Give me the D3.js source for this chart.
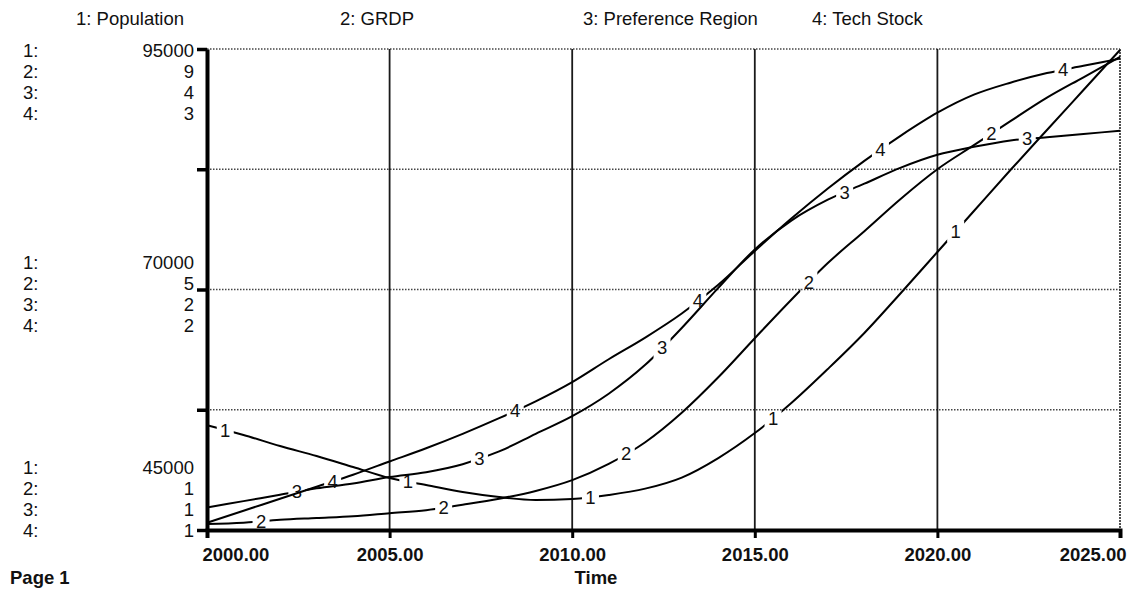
<!DOCTYPE html>
<html>
<head>
<meta charset="utf-8">
<script src="https://cdn.jsdelivr.net/npm/d3@7/dist/d3.min.js"></script>
<style>
  html, body { margin: 0; padding: 0; background: #fff; }
  svg { display: block; }
  text { font-family: "Liberation Sans", Arial, sans-serif; fill: #111; }
</style>
</head>
<body>
<svg id="chart" width="1131" height="595"></svg>
<script>
// ---------------- DATA ----------------
const years = [2000, 2001, 2002, 2003, 2004, 2005, 2006, 2007, 2008, 2009, 2010, 2011, 2012,
               2013, 2014, 2015, 2016, 2017, 2018, 2019, 2020, 2021, 2022, 2023, 2024, 2025];

const population = [55900, 54880, 53730, 52690, 51550, 50400, 49680, 48950, 48430, 48120, 48220, 48640, 49300,
                    50450, 52480, 55080, 58200, 61740, 65480, 69640, 73900, 78160, 82420, 86580, 90740, 94900];

const grdp = [1.10, 1.12, 1.17, 1.20, 1.23, 1.28, 1.33, 1.42, 1.52, 1.65, 1.83, 2.10, 2.46,
              2.95, 3.54, 4.19, 4.83, 5.44, 5.97, 6.51, 7.00, 7.40, 7.80, 8.19, 8.53, 8.87];

const preferenceRegion = [1.14, 1.18, 1.22, 1.26, 1.29, 1.33, 1.36, 1.41, 1.49, 1.60, 1.71, 1.85, 2.03,
                          2.26, 2.51, 2.75, 2.93, 3.06, 3.16, 3.26, 3.34, 3.39, 3.43, 3.45, 3.47, 3.49];

const techStock = [1.03, 1.08, 1.13, 1.18, 1.23, 1.285, 1.34, 1.40, 1.465, 1.535, 1.615, 1.71, 1.80,
                   1.90, 2.02, 2.16, 2.295, 2.42, 2.535, 2.64, 2.735, 2.81, 2.86, 2.90, 2.93, 2.96];

const seriesNames = ["Population", "GRDP", "Preference Region", "Tech Stock"];
const seriesDomains = [[45000, 95000], [1, 9], [1, 4], [1, 3]];

// left axis value labels (top / middle / bottom rows for series 1..4)
const axisTopLabels = ["95000", "9", "4", "3"];
const axisMidLabels = ["70000", "5", "2", "2"];
const axisBotLabels = ["45000", "1", "1", "1"];

const xTickValues = [2000, 2005, 2010, 2015, 2020, 2025];
const xAxisTitle = "Time";
const pageLabel = "Page 1";

// ---------------- LAYOUT ----------------
const svg = d3.select("#chart");
const W = 1131, H = 595;
const pL = 207, pR = 1120, pT = 49, pB = 530;
const FS = 18.5;

svg.append("rect").attr("width", W).attr("height", H).attr("fill", "#fff");

const x = d3.scaleLinear().domain([2000, 2025]).range([pL, pR]);
const yScales = seriesDomains.map(d => d3.scaleLinear().domain(d).range([pB, pT]));
const seriesData = [population, grdp, preferenceRegion, techStock];

// ---------------- GRID ----------------
const grid = svg.append("g");
const y1 = yScales[0];
[57500, 70000, 82500, 95000].forEach(v => {
  grid.append("line")
    .attr("x1", pL).attr("x2", pR)
    .attr("y1", y1(v)).attr("y2", y1(v))
    .attr("stroke", "#444").attr("stroke-width", 1.5)
    .attr("stroke-dasharray", "1.5,1.5");
});
[2005, 2010, 2015, 2020].forEach(t => {
  grid.append("line")
    .attr("x1", x(t)).attr("x2", x(t))
    .attr("y1", pT).attr("y2", pB)
    .attr("stroke", "#1a1a1a").attr("stroke-width", 1.8);
});
grid.append("line")
  .attr("x1", x(2025)).attr("x2", x(2025))
  .attr("y1", pT).attr("y2", pB)
  .attr("stroke", "#333").attr("stroke-width", 1.7)
  .attr("stroke-dasharray", "2,1");

// ---------------- SERIES ----------------
const labelTimes = (i) => [0, 1, 2, 3, 4].map(k => 2000.5 + i * 0.98 + 5 * k);
function valueAt(arr, t) {
  const i = Math.min(Math.floor(t - 2000), arr.length - 2);
  const f = t - 2000 - i;
  return arr[i] + (arr[i + 1] - arr[i]) * f;
}

const defs = svg.append("defs");
seriesData.forEach((arr, i) => {
  const ys = yScales[i];
  const m = defs.append("mask").attr("id", "m" + i).attr("maskUnits", "userSpaceOnUse")
    .attr("x", 0).attr("y", 0).attr("width", W).attr("height", H);
  m.append("rect").attr("width", W).attr("height", H).attr("fill", "#fff");
  labelTimes(i).forEach(t => {
    const px = x(t), py = ys(valueAt(arr, t));
    m.append("rect").attr("x", px - 8.5).attr("y", py - 11).attr("width", 17).attr("height", 22).attr("fill", "#000");
  });

  const line = d3.line()
    .x((d, j) => x(years[j]))
    .y(d => ys(d))
    .curve(d3.curveMonotoneX);

  svg.append("path")
    .datum(arr)
    .attr("d", line)
    .attr("fill", "none")
    .attr("stroke", "#000")
    .attr("stroke-width", 2)
    .attr("mask", `url(#m${i})`);

  labelTimes(i).forEach(t => {
    svg.append("text")
      .attr("x", x(t)).attr("y", ys(valueAt(arr, t)))
      .attr("text-anchor", "middle")
      .attr("dominant-baseline", "central")
      .attr("font-size", FS)
      .text(i + 1);
  });
});

// ---------------- AXES ----------------
const xAxis = d3.axisBottom(x).tickValues(xTickValues).tickFormat(d3.format(".2f")).tickSize(8).tickPadding(6);
const gx = svg.append("g").attr("transform", `translate(0,${pB})`).call(xAxis);
gx.select(".domain").attr("stroke", "#000").attr("stroke-width", 4);
gx.selectAll(".tick line").attr("stroke", "#000").attr("stroke-width", 3);
gx.selectAll(".tick text")
  .attr("font-size", FS).attr("font-weight", "bold")
  .attr("font-family", "Liberation Sans, Arial, sans-serif").attr("fill", "#111")
  .attr("y", 0).attr("dy", 0)
  .attr("transform", "translate(0,24)")
  .attr("dominant-baseline", "central")
  .attr("text-anchor", d => d === 2000 ? "start" : (d === 2025 ? "end" : "middle"))
  .attr("dx", d => d === 2000 ? -5 : (d === 2025 ? 6 : 0));

const yAxis = d3.axisLeft(y1).tickValues([45000, 57500, 70000, 82500, 95000]).tickFormat("").tickSize(10).tickSizeOuter(0);
const gy = svg.append("g").attr("transform", `translate(${pL},0)`).call(yAxis);
gy.select(".domain").attr("stroke", "#000").attr("stroke-width", 4);
gy.selectAll(".tick line").attr("stroke", "#000").attr("stroke-width", 3.5);

// left value labels
const rowGap = 21;
function labelBlock(labels, firstY) {
  labels.forEach((lab, j) => {
    const yy = firstY + j * rowGap;
    svg.append("text").attr("x", 23).attr("y", yy).attr("dominant-baseline", "central")
      .attr("font-size", FS).text((j + 1) + ":");
    svg.append("text").attr("x", 194).attr("y", yy).attr("dominant-baseline", "central")
      .attr("text-anchor", "end").attr("font-size", FS).text(lab);
  });
}
labelBlock(axisTopLabels, y1(95000) + 1);
labelBlock(axisMidLabels, y1(70000) - 27);
labelBlock(axisBotLabels, y1(45000) - 63);

// legend
const legendX = [76, 340, 583, 812];
seriesNames.forEach((n, i) => {
  svg.append("text").attr("x", legendX[i]).attr("y", 18.5).attr("dominant-baseline", "central")
    .attr("font-size", FS).text(`${i + 1}: ${n}`);
});

// footer
svg.append("text").attr("x", 10).attr("y", 577).attr("dominant-baseline", "central")
  .attr("font-size", FS).attr("font-weight", "bold").text(pageLabel);
svg.append("text").attr("x", 596).attr("y", 577).attr("dominant-baseline", "central")
  .attr("text-anchor", "middle").attr("font-size", FS).attr("font-weight", "bold").text(xAxisTitle);
</script>
</body>
</html>
